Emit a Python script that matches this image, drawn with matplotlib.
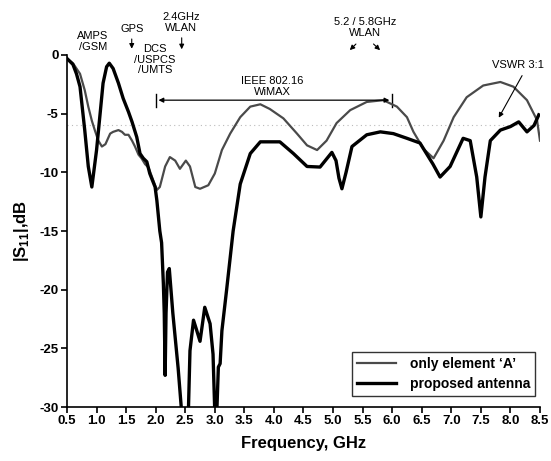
import matplotlib
matplotlib.use("Agg")
import matplotlib.pyplot as plt
import numpy as np

plt.rcParams['font.family'] = ['Liberation Sans', 'DejaVu Sans']
plt.rcParams['mathtext.fontset'] = 'custom'
plt.rcParams['mathtext.rm'] = 'Liberation Sans:bold'
plt.rcParams['mathtext.bf'] = 'Liberation Sans:bold'

# --- data ---
freq_a = [0.5, 0.6, 0.72, 0.8, 0.86, 0.92, 0.97, 1.03, 1.09, 1.15, 1.23, 1.28, 1.37, 1.43,
          1.48, 1.54, 1.6, 1.65, 1.71, 1.76, 1.82, 1.88, 1.96, 2.02, 2.07, 2.16, 2.24, 2.33,
          2.41, 2.51, 2.58, 2.67, 2.75, 2.89, 3.0, 3.12, 3.26, 3.43, 3.6, 3.77, 3.93, 4.16,
          4.39, 4.56, 4.73, 4.89, 5.06, 5.29, 5.57, 5.85, 6.08, 6.25, 6.36, 6.53, 6.7, 6.87,
          7.04, 7.26, 7.54, 7.83, 8.05, 8.28, 8.45, 8.5]
s11_a = [-0.3, -0.7, -1.6, -3.0, -4.4, -5.6, -6.4, -7.3, -7.8, -7.6, -6.7, -6.55, -6.4, -6.55,
         -6.8, -6.8, -7.3, -7.8, -8.5, -8.8, -9.3, -9.6, -10.7, -11.5, -11.25, -9.5, -8.7, -9.0,
         -9.7, -9.0, -9.5, -11.25, -11.4, -11.1, -10.1, -8.1, -6.7, -5.3, -4.4, -4.2, -4.6, -5.4,
         -6.7, -7.7, -8.1, -7.3, -5.8, -4.7, -4.0, -3.85, -4.4, -5.3, -6.55, -8.0, -8.8, -7.3,
         -5.3, -3.6, -2.6, -2.3, -2.7, -3.85, -5.55, -7.3]

freq_p = [0.5, 0.6, 0.66, 0.72, 0.8, 0.86, 0.92, 1.0, 1.06, 1.11, 1.17, 1.215, 1.28, 1.37,
          1.45, 1.54, 1.6, 1.68, 1.735, 1.79, 1.85, 1.9, 1.99, 2.02, 2.07, 2.1, 2.13, 2.145,
          2.16, 2.175, 2.2, 2.23, 2.29, 2.38, 2.44, 2.5, 2.55, 2.58, 2.64, 2.69, 2.75, 2.83,
          2.92, 2.97, 3.0, 3.03, 3.06, 3.09, 3.12, 3.2, 3.31, 3.43, 3.6, 3.77, 3.93, 4.1,
          4.33, 4.56, 4.78, 4.98, 5.05, 5.1, 5.15, 5.22, 5.32, 5.57, 5.8, 6.02, 6.25, 6.47,
          6.69, 6.81, 6.98, 7.2, 7.32, 7.43, 7.5, 7.57, 7.66, 7.83, 8.0, 8.14, 8.28, 8.4, 8.48]
s11_p = [-0.3, -0.8, -1.6, -2.7, -6.4, -9.5, -11.25, -8.1, -5.0, -2.4, -1.0, -0.7, -1.15, -2.4,
         -3.7, -4.85, -5.7, -7.0, -8.4, -8.8, -9.1, -10.1, -11.25, -12.4, -15.0, -16.0, -19.5, -22.0,
         -27.3, -22.0, -18.5, -18.2, -22.0, -26.7, -30.5, -32.0, -31.0, -25.2, -22.6, -23.4, -24.4, -21.5,
         -22.9, -25.5, -30.5, -31.0, -26.6, -26.3, -23.5, -20.0, -15.0, -11.0, -8.4, -7.4, -7.4, -7.4,
         -8.4, -9.5, -9.55, -8.3, -9.0, -10.5, -11.4, -10.0, -7.8, -6.8, -6.55, -6.7, -7.1, -7.5,
         -9.3, -10.4, -9.5, -7.1, -7.3, -10.4, -13.8, -10.4, -7.3, -6.4, -6.1, -5.7, -6.55, -6.0, -5.1]

x_ticks = [0.5, 1.0, 1.5, 2.0, 2.5, 3.0, 3.5, 4.0, 4.5, 5.0, 5.5, 6.0, 6.5, 7.0, 7.5, 8.0, 8.5]
y_ticks = [0, -5, -10, -15, -20, -25, -30]
vswr_level = -6
wimax_band = [2.0, 6.0]

fig = plt.figure(figsize=(5.51, 4.61), dpi=100)
ax = fig.add_axes([0.1216, 0.1171, 0.8584, 0.7636])

ax.axhline(vswr_level, color='#bbbbbb', lw=0.8, ls=(0, (1, 3)), zorder=1)
ax.plot(freq_a, s11_a, color='#4a4a4a', lw=1.6, label="only element \u2018A\u2019", zorder=3)
ax.plot(freq_p, s11_p, color='black', lw=2.4, label='proposed antenna', zorder=4)

ax.set_xlim(0.5, 8.5)
ax.set_ylim(-30, 0)
ax.set_xticks(x_ticks)
ax.set_xticklabels([f'{v:.1f}' for v in x_ticks])
ax.set_yticks(y_ticks)
ax.set_yticklabels([f'{v:d}' for v in y_ticks])
for s in ['top', 'right']:
    ax.spines[s].set_visible(False)
for s in ['left', 'bottom']:
    ax.spines[s].set_linewidth(1.2)
ax.tick_params(direction='out', length=4, width=1.2, labelsize=9.5, pad=2)
for lab in ax.get_xticklabels() + ax.get_yticklabels():
    lab.set_fontweight('bold')

ax.set_xlabel('Frequency, GHz', fontsize=12, fontweight='bold', labelpad=6)
ax.set_ylabel(r'|S$_{\mathbf{11}}$|,dB', fontsize=12, fontweight='bold', labelpad=6)

leg = ax.legend(loc='lower right', fontsize=10, frameon=True, fancybox=False,
                edgecolor='black', handlelength=2.8, borderpad=0.35, labelspacing=0.45,
                handletextpad=1.0, bbox_to_anchor=(1.004, 0.012))
leg.get_frame().set_linewidth(1.0)
for t in leg.get_texts():
    t.set_fontweight('bold')

tk = dict(fontsize=8, ha='center', va='center', linespacing=1.1, annotation_clip=False)
ap = dict(arrowstyle='-|>', color='black', lw=0.8, mutation_scale=7)

ax.annotate('AMPS\n/GSM', xy=(0.94, 1.15), **tk)
ax.annotate('GPS', xy=(1.595, 2.2), **tk)
ax.annotate('', xy=(1.595, 0.3), xytext=(1.595, 1.6), arrowprops=ap, annotation_clip=False)
ax.annotate('2.4GHz\nWLAN', xy=(2.43, 2.8), **tk)
ax.annotate('', xy=(2.44, 0.25), xytext=(2.44, 1.7), arrowprops=ap, annotation_clip=False)
ax.annotate('DCS\n/USPCS\n/UMTS', xy=(1.99, -0.4), **tk)
ax.annotate('IEEE 802.16\nWiMAX', xy=(3.97, -2.7), **tk)
ax.annotate('', xy=(wimax_band[0], -3.85), xytext=(wimax_band[1], -3.85),
            arrowprops=dict(arrowstyle='<|-|>', color='black', lw=0.9, mutation_scale=7))
for xb in wimax_band:
    ax.plot([xb, xb], [-3.3, -4.4], color='black', lw=1.0)
ax.annotate('5.2 / 5.8GHz\nWLAN', xy=(5.54, 2.35), **tk)
ax.annotate('', xy=(5.25, 0.25), xytext=(5.42, 1.1), arrowprops=ap, annotation_clip=False)
ax.annotate('', xy=(5.83, 0.25), xytext=(5.65, 1.1), arrowprops=ap, annotation_clip=False)
ax.annotate('VSWR 3:1', xy=(8.13, -0.85), **tk)
ax.annotate('', xy=(7.78, -5.55), xytext=(8.22, -1.55), arrowprops=ap)

fig.savefig('out.png', dpi=100)
